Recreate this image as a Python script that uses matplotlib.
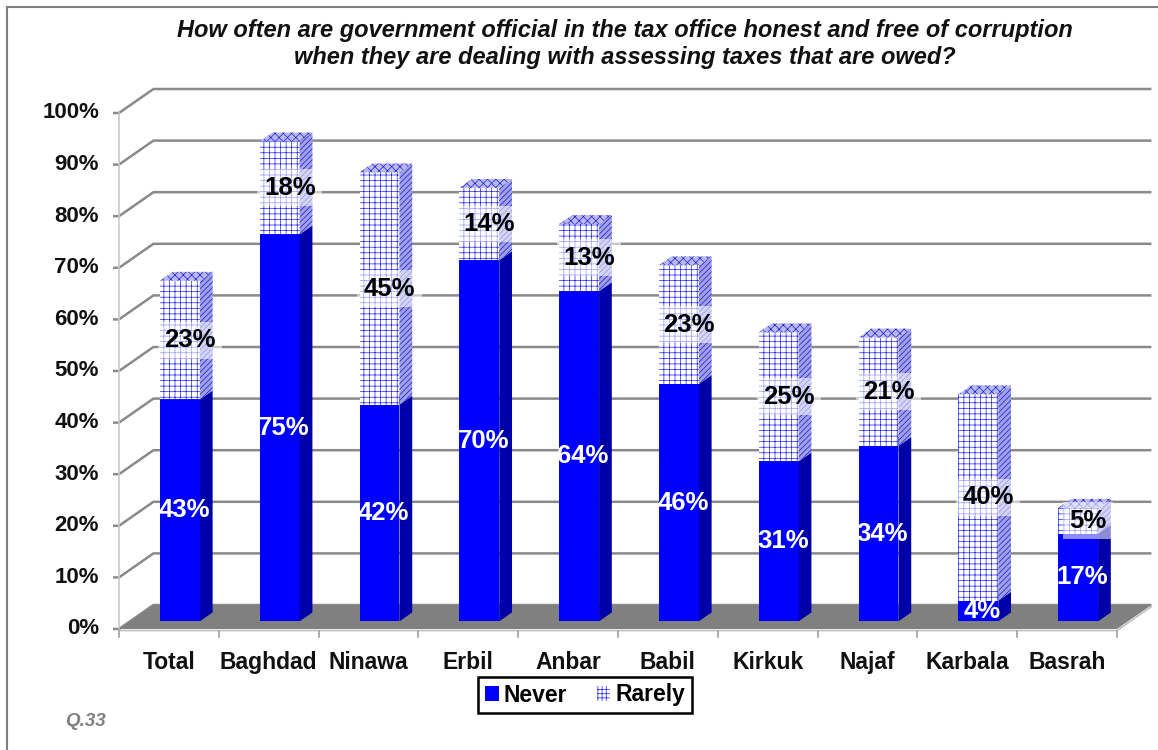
import matplotlib.pyplot as plt
from matplotlib.patches import Polygon, Patch
from matplotlib.lines import Line2D

# survey results, percent of respondents
categories = ["Total", "Baghdad", "Ninawa", "Erbil", "Anbar",
              "Babil", "Kirkuk", "Najaf", "Karbala", "Basrah"]
never = [43, 75, 42, 70, 64, 46, 31, 34, 4, 17]
rarely = [23, 18, 45, 14, 13, 23, 25, 21, 40, 5]
yticks = [0, 10, 20, 30, 40, 50, 60, 70, 80, 90, 100]

plt.rcParams['font.family'] = ['Liberation Sans', 'DejaVu Sans']
plt.rcParams['hatch.linewidth'] = 0.5

W, H = 1158, 750
fig = plt.figure(figsize=(W / 100, H / 100), dpi=100)
ax = fig.add_axes([0, 0, 1, 1])

# pixel scale of the front plane: one category = 99.8 px, one percent = 5.16 px
x_left, x_unit = 119, 99.8
y_base, y_unit = 629, 5.16
ax.set_xlim(-0.5 - x_left / x_unit, -0.5 + (W - x_left) / x_unit)
ax.set_ylim((y_base - H) / y_unit, y_base / y_unit)
ax.axis('off')

# depth of the 3d box in data units
DX, DY = 0.345, 4.65
n = len(categories)
x_lo, x_hi = -0.5, n - 0.5


def pt(x, v, d):
    return (x + d * DX, v + d * DY)


grid_col = '#8a8a8a'

# back wall gridlines and left wall diagonals
for v in yticks:
    ax.plot([x_lo - 0.06, x_lo, x_lo + DX, x_hi + DX],
            [v, v, v + DY, v + DY], color=grid_col, lw=1.8, zorder=1,
            solid_capstyle='butt')
    ax.text(x_lo - 0.2, v, f"{v}%", ha='right', va='center',
            fontsize=16, fontweight='bold', color='#111111')
ax.plot([x_lo, x_lo], [0, 100], color='#c8c8c8', lw=1.2, zorder=1)

# floor
floor = Polygon([pt(x_lo, 0, 0), pt(x_hi, 0, 0), pt(x_hi, 0, 1), pt(x_lo, 0, 1)],
                closed=True, facecolor='#808080', edgecolor='none', zorder=2)
ax.add_patch(floor)
ax.plot([x_lo, x_hi, x_hi + DX], [-0.3, -0.3, DY - 0.3],
        color='#c0c0c0', lw=1.2, zorder=2)

# category ticks and labels
for k in range(n + 1):
    ax.plot([x_lo + k, x_lo + k], [-0.4, -1.5], color='#a0a0a0', lw=1.2, zorder=2)
for i, name in enumerate(categories):
    ax.text(i, -6.5, name, ha='center', va='center', fontsize=16.5,
            fontweight='bold', color='#111111')

# bars: front at depth d0, back at depth d1
d0, d1 = 0.32, 0.69
bw = 0.40


def draw_box(xc, v0, v1, front, side, top):
    xl, xr = xc - bw / 2, xc + bw / 2
    faces = [
        ([pt(xl, v0, d0), pt(xr, v0, d0), pt(xr, v1, d0), pt(xl, v1, d0)], front),
        ([pt(xr, v0, d0), pt(xr, v0, d1), pt(xr, v1, d1), pt(xr, v1, d0)], side),
        ([pt(xl, v1, d0), pt(xr, v1, d0), pt(xr, v1, d1), pt(xl, v1, d1)], top),
    ]
    for verts, style in faces:
        ax.add_patch(Polygon(verts, closed=True, lw=0, zorder=3, **style))


never_front = dict(facecolor='#0000ff', edgecolor='#0000ff')
never_side = dict(facecolor='#0000a8', edgecolor='#0000a8')
never_top = dict(facecolor='#2a2aff', edgecolor='#2a2aff')
rare_front = dict(facecolor='white', edgecolor='#2020ff', hatch='+++')
rare_side = dict(facecolor='#a0a0ea', edgecolor='#1818c8', hatch='//////')
rare_top = dict(facecolor='#b8b8f0', edgecolor='#2020d0', hatch='xxxx')

for i in range(n):
    draw_box(i, 0, never[i], never_front, never_side, never_top)
    draw_box(i, never[i], never[i] + rarely[i], rare_front, rare_side, rare_top)

    lx, ly = pt(i + 0.04, never[i] / 2, d0)
    ax.text(lx, ly, f"{never[i]}%", ha='center', va='center', fontsize=18.5,
            fontweight='bold', color='white', zorder=5)
    lx, ly = pt(i + 0.1, never[i] + rarely[i] / 2, d0)
    ax.text(lx, ly, f"{rarely[i]}%", ha='center', va='center', fontsize=18.5,
            fontweight='bold', color='black', zorder=5,
            bbox=dict(boxstyle='square,pad=0.25', facecolor='white',
                      edgecolor='none', alpha=0.55))

# title
fig.text(625 / W, 1 - 44 / H,
         "How often are government official in the tax office honest and free of corruption\n"
         "when they are dealing with assessing taxes that are owed?",
         ha='center', va='center', fontsize=17, fontweight='bold',
         fontstyle='italic', color='#111111', linespacing=1.22)

# legend
handles = [Patch(facecolor='#0000ff', edgecolor='#0000ff', lw=0, label='Never'),
           Patch(facecolor='white', edgecolor='#2020ff', hatch='++++', lw=0,
                 label='Rarely')]
leg = fig.legend(handles=handles, loc='center', ncol=2,
                 bbox_to_anchor=(585 / W, 1 - 695 / H), fancybox=False,
                 framealpha=1, edgecolor='black', handlelength=0.6,
                 handleheight=0.6, handletextpad=0.2, columnspacing=1.3,
                 borderpad=0.3, prop=dict(size=16.5, weight='bold'))
leg.get_frame().set_linewidth(1.8)

# footnote
fig.text(65 / W, 1 - 722 / H, "Q.33", ha='left', va='center', fontsize=13.5,
         fontweight='bold', fontstyle='italic', color='#808080')

# chart area border
fig.add_artist(Line2D([7 / W, 7 / W], [0, 1 - 7 / H], color='#808080', lw=1.5))
fig.add_artist(Line2D([7 / W, 1], [1 - 7 / H, 1 - 7 / H], color='#808080', lw=1.5))

fig.savefig('out.png', dpi=100)
